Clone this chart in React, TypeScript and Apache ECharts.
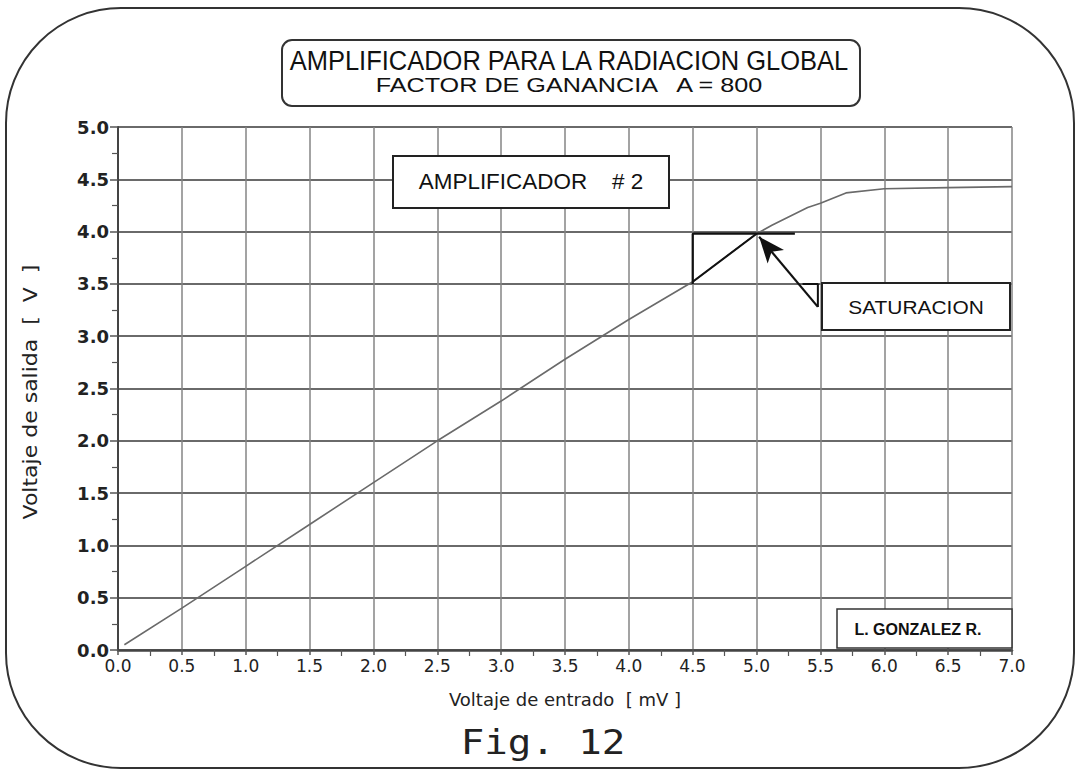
import React, { useEffect, useRef } from "react";
import * as echarts from "echarts";

const inputMv = [0.05, 0.5, 1.0, 1.5, 2.0, 2.5, 3.0, 3.5, 4.0, 4.5, 5.0, 5.12, 5.25, 5.4, 5.5, 5.7, 6.0, 6.5, 7.0];
const outputV = [0.05, 0.4, 0.8, 1.2, 1.6, 2.0, 2.38, 2.78, 3.16, 3.52, 3.98, 4.06, 4.14, 4.23, 4.27, 4.37, 4.41, 4.42, 4.43];
const saturationBracket = [[4.5, 3.5], [4.5, 3.98], [5.3, 3.98]];
const arrowTail = [5.48, 3.28];
const arrowTip = [5.02, 3.95];
const arrowCorner = [[5.36, 3.5], [5.48, 3.5], [5.48, 3.28]];

const titleLine1 = "AMPLIFICADOR PARA LA RADIACION GLOBAL";
const titleLine2 = "FACTOR DE GANANCIA   A = 800";
const boxAmp = "AMPLIFICADOR    # 2";
const boxSat = "SATURACION";
const boxAuthor = "L. GONZALEZ R.";
const figLabel = "Fig. 12";
const xName = "Voltaje de entrado  [ mV ]";
const yName = "Voltaje de salida  [  V  ]";

const CAD = "'Liberation Sans', 'DejaVu Sans', sans-serif";
const ROUND = "'DejaVu Sans', sans-serif";

export default function App() {
  const ref = useRef<HTMLDivElement>(null);
  useEffect(() => {
    if (!ref.current) return;
    const chart = echarts.init(ref.current, null, { renderer: "svg" });
    const linePts = inputMv.map((x, i) => [x, outputV[i]]);
    const darkPts = linePts.filter((p) => p[0] >= 4.5 && p[0] <= 5.0);
    chart.setOption({
      animation: false,
      backgroundColor: "#ffffff",
      grid: { left: 118, top: 127, width: 894, height: 523 },
      xAxis: {
        type: "value",
        min: 0,
        max: 7,
        interval: 0.5,
        name: xName,
        nameLocation: "middle",
        nameGap: 40,
        nameTextStyle: { fontFamily: ROUND, fontSize: 18, color: "#222" },
        axisLine: { show: true, lineStyle: { color: "#444", width: 2.5 } },
        axisTick: { show: true, length: 5, lineStyle: { color: "#555", width: 1.5 } },
        minorTick: { show: true, splitNumber: 2, length: 6, lineStyle: { color: "#555", width: 1.2 } },
        axisLabel: {
          formatter: (v: number) => v.toFixed(1),
          fontFamily: ROUND,
          fontSize: 17,
          color: "#222",
          margin: 7,
        },
        splitLine: { show: true, lineStyle: { color: "#858585", width: 1.5 } },
      },
      yAxis: {
        type: "value",
        min: 0,
        max: 5,
        interval: 0.5,
        axisLine: { show: true, lineStyle: { color: "#444", width: 2 } },
        axisTick: { show: true, length: 8, lineStyle: { color: "#555", width: 1.5 } },
        minorTick: { show: true, splitNumber: 2, length: 6, lineStyle: { color: "#555", width: 1.2 } },
        axisLabel: {
          formatter: (v: number) => v.toFixed(1),
          fontFamily: ROUND,
          fontWeight: "bold",
          fontSize: 18,
          color: "#222",
          margin: 9,
        },
        splitLine: { show: true, lineStyle: { color: "#6a6a6a", width: 2 } },
      },
      series: [
        {
          type: "line",
          data: linePts,
          showSymbol: false,
          lineStyle: { color: "#6a6a6a", width: 1.6 },
          z: 3,
        },
        {
          type: "line",
          data: darkPts,
          showSymbol: false,
          lineStyle: { color: "#111", width: 2 },
          z: 4,
        },
        {
          type: "line",
          data: saturationBracket,
          showSymbol: false,
          lineStyle: { color: "#111", width: 2.2 },
          z: 4,
        },
        {
          type: "line",
          data: arrowCorner,
          showSymbol: false,
          lineStyle: { color: "#111", width: 2 },
          z: 4,
          markLine: {
            silent: true,
            symbol: ["none", "arrow"],
            symbolSize: [16, 26],
            label: { show: false },
            lineStyle: { color: "#111", width: 2.2, type: "solid" },
            data: [[{ coord: arrowTail }, { coord: arrowTip }]],
          },
        },
      ],
      graphic: [
        {
          type: "rect",
          shape: { x: 6, y: 8, width: 1068, height: 760, r: 115 },
          style: { fill: "none", stroke: "#333", lineWidth: 2 },
          z: 0,
        },
        {
          type: "rect",
          shape: { x: 282, y: 40, width: 578, height: 66, r: 10 },
          style: { fill: "none", stroke: "#333", lineWidth: 2 },
        },
        {
          type: "text",
          x: 569,
          y: 61,
          scaleX: 0.91,
          style: {
            text: titleLine1,
            font: `28px ${CAD}`,
            fill: "#111",
            align: "center",
            verticalAlign: "middle",
          },
        },
        {
          type: "text",
          x: 569,
          y: 85,
          scaleX: 1.2,
          style: {
            text: titleLine2,
            font: `21px ${CAD}`,
            fill: "#111",
            align: "center",
            verticalAlign: "middle",
          },
        },
        {
          type: "text",
          x: 30,
          y: 392,
          rotation: Math.PI / 2,
          scaleX: 1.1,
          style: {
            text: yName,
            font: `20px ${ROUND}`,
            fill: "#222",
            align: "center",
            verticalAlign: "middle",
          },
        },
        {
          type: "rect",
          shape: { x: 393, y: 156, width: 276, height: 52 },
          style: { fill: "#fff", stroke: "#222", lineWidth: 2 },
          z: 10,
        },
        {
          type: "text",
          x: 531,
          y: 182,
          scaleX: 1.02,
          z: 11,
          style: {
            text: boxAmp,
            font: `22px ${CAD}`,
            fill: "#111",
            align: "center",
            verticalAlign: "middle",
          },
        },
        {
          type: "rect",
          shape: { x: 822, y: 283, width: 188, height: 47 },
          style: { fill: "#fff", stroke: "#222", lineWidth: 2 },
          z: 10,
        },
        {
          type: "text",
          x: 916,
          y: 307,
          z: 11,
          scaleX: 1.1,
          style: {
            text: boxSat,
            font: `19px ${CAD}`,
            fill: "#111",
            align: "center",
            verticalAlign: "middle",
          },
        },
        {
          type: "rect",
          shape: { x: 837, y: 609, width: 175, height: 39 },
          style: { fill: "#fff", stroke: "#333", lineWidth: 1.5 },
          z: 10,
        },
        {
          type: "text",
          x: 918,
          y: 629,
          z: 11,
          style: {
            text: boxAuthor,
            font: `bold 16px ${CAD}`,
            fill: "#111",
            align: "center",
            verticalAlign: "middle",
          },
        },
        {
          type: "text",
          x: 543,
          y: 742,
          scaleX: 1.15,
          style: {
            text: figLabel,
            font: `34px 'DejaVu Sans Mono', monospace`,
            fill: "#222",
            align: "center",
            verticalAlign: "middle",
          },
        },
      ],
    });
    return () => chart.dispose();
  }, []);
  return (
    <div
      ref={ref}
      style={{ position: "fixed", left: 0, top: 0, width: 1083, height: 776 }}
    />
  );
}
